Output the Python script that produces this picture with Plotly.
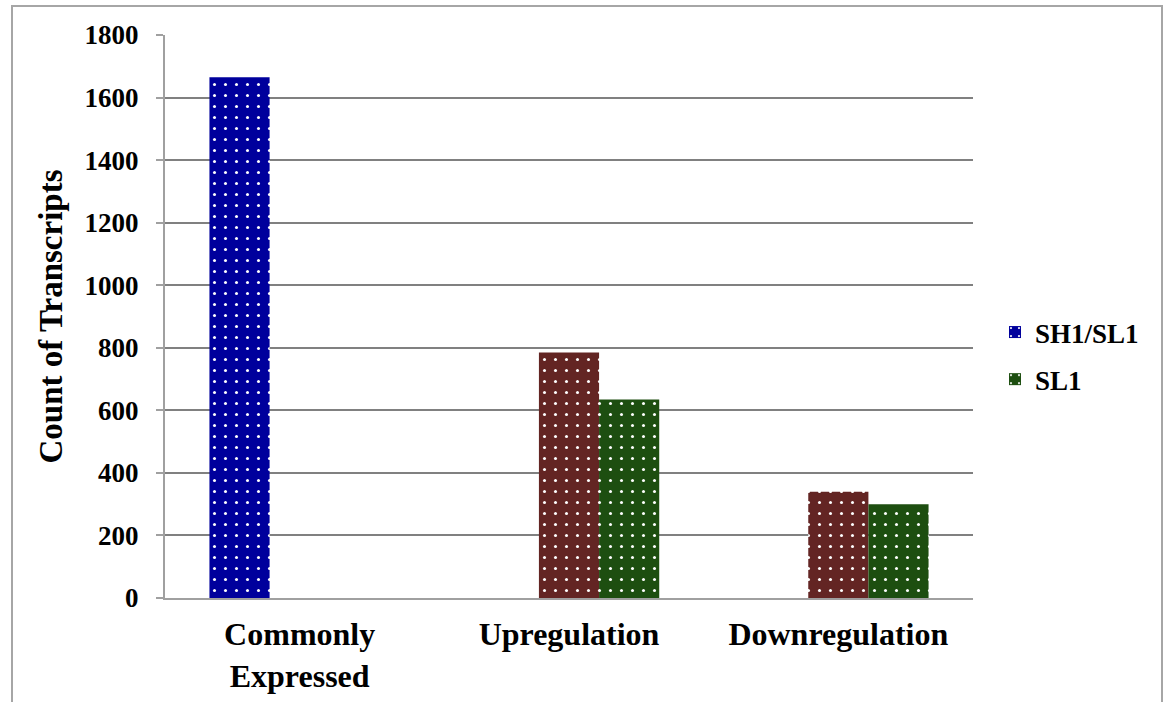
import plotly.graph_objects as go

categories = ["Commonly<br>Expressed", "Upregulation", "Downregulation"]
series_names = ["SH1/SL1", "SH1", "SL1"]
sh1_sl1 = [1665, None, None]
sh1 = [None, 785, 340]
sl1 = [None, 635, 300]
colors = ["#00009C", "#632523", "#1D4E10"]
show_in_legend = [True, False, True]
y_ticks = [0, 200, 400, 600, 800, 1000, 1200, 1400, 1600, 1800]

W, H = 1166, 702
L, R, T, B = 165, 193, 35, 104
pw, ph = W - L - R, H - T - B

font_family = "Liberation Serif"

fig = go.Figure()
for i, (name, vals) in enumerate(zip(series_names, [sh1_sl1, sh1, sl1])):
    fig.add_trace(go.Bar(
        x=categories, y=vals, name=name,
        marker=dict(color=colors[i], line=dict(width=0),
                    pattern=dict(shape=".", fgcolor="white", bgcolor=colors[i],
                                 size=11, solidity=0.06, fillmode="replace")),
        showlegend=show_in_legend[i],
        legendgroup=name,
    ))

fig.update_layout(
    width=W, height=H,
    margin=dict(l=L, r=R, t=T, b=B, pad=0, autoexpand=False),
    paper_bgcolor="white", plot_bgcolor="white",
    barmode="group", bargap=0.33, bargroupgap=0,
    font=dict(family=font_family, color="black"),
    legend=dict(x=(995 - L) / pw, y=(598 - 356) / ph, xanchor="left", yanchor="middle",
                font=dict(family=font_family, size=27, color="black", weight="bold"),
                traceorder="grouped", tracegroupgap=9, itemwidth=30,
                bgcolor="rgba(0,0,0,0)"),
    xaxis=dict(showgrid=False, showline=True, linecolor="#A0A0A0", linewidth=2,
               ticks="", tickfont=dict(size=32, weight="bold"), ticklabelstandoff=7,
               automargin=False),
    yaxis=dict(range=[0, 1800], tickvals=y_ticks, showgrid=True, gridcolor="#808080",
               gridwidth=1.5, showline=True, linecolor="#A0A0A0", linewidth=2,
               ticks="outside", ticklen=7, tickcolor="#A0A0A0", tickwidth=2,
               tickfont=dict(size=27, weight="bold"), ticklabelstandoff=12,
               zeroline=False, automargin=False,
               title=dict(text="Count of Transcripts", font=dict(size=33, weight="bold"),
                          standoff=12)),
    shapes=[dict(type="rect", xref="paper", yref="paper",
                 x0=(12 - L) / pw, x1=(1162 - L) / pw,
                 y0=(598 - 760) / ph, y1=(598 - 6) / ph,
                 line=dict(color="#A6A6A6", width=2), fillcolor="rgba(0,0,0,0)",
                 layer="below")],
)

fig.write_html("out.html")
